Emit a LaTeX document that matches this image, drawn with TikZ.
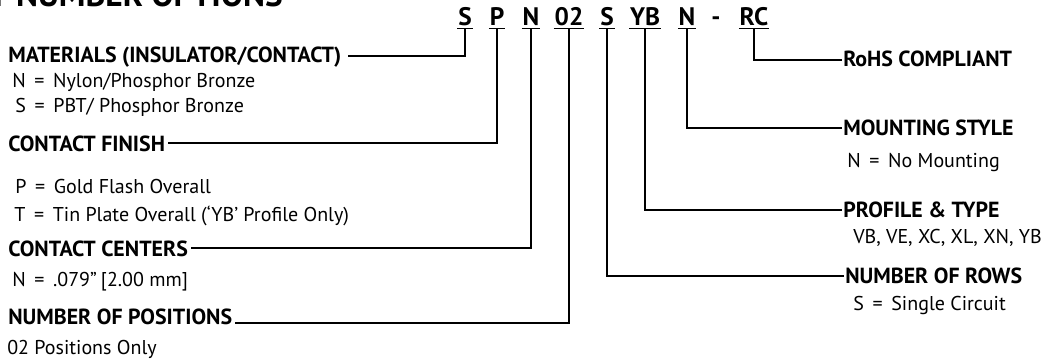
\documentclass[tikz,border=0pt]{standalone}
\usepackage{fontspec}
\setmainfont{PT Sans}
\usetikzlibrary{positioning,calc}
\newcommand{\eqsign}{\hspace{2.5pt} = \hspace{2.5pt}}
\tikzset{
	code/.style = {font=\bfseries\fontsize{19}{22}\selectfont, anchor=base, inner xsep=0.5pt, inner ysep=2.25pt, text depth=0pt},
	head/.style = {font=\bfseries\fontsize{16.4}{19}\selectfont, anchor=base west, inner sep=0pt},
	opt/.style  = {font=\fontsize{15}{18}\selectfont, anchor=base west, inner sep=0pt},
	link/.style = {draw, line width=0.8pt},
	uline/.style = {line width=1pt}
}

\begin{document}
\begin{tikzpicture}[x=0.75pt, y=-0.75pt]
	\useasboundingbox (0,0) rectangle (1041,361);
	\clip (0,0) rectangle (1041,361);
	\node [font=\bfseries\fontsize{25}{30}\selectfont, anchor=base east, inner sep=0pt] (title) at (283,6) {PART NUMBER OPTIONS};

	% part number
	\node [code] (cS) at (465,25) {S};
	\node [code] (cP) at (497,25) {P};
	\node [code] (cN) at (531,25) {N};
	\node [code] (c02) at (569,25) {02};
	\node [code] (cS2) at (607,25) {S};
	\node [code] (cYB) at (645,25) {YB};
	\node [code] (cN2) at (687,25) {N};
	\node [code] (cdash) at (716,25) {-};
	\node [code] (cRC) at (754,25) {RC};
	\foreach \c in {cS,cP,cN,c02,cS2,cYB,cN2,cRC}
		\draw [uline] (\c.south west) -- (\c.south east);

	% left side
	\node [head] (mat) at (8,62) {MATERIALS (INSULATOR/CONTACT)};
	\node [opt] (matN) at (12,87) {N\eqsign Nylon/Phosphor Bronze};
	\node [opt] (matS) at (15,112) {S\eqsign PBT/ Phosphor Bronze};
	\node [head] (fin) at (8,151) {CONTACT FINISH};
	\node [opt] (finP) at (15,193) {P\eqsign Gold Flash Overall};
	\node [opt] (finT) at (14,221) {T\eqsign Tin Plate Overall (‘YB’ Profile Only)};
	\node [head] (cen) at (8,256) {CONTACT CENTERS};
	\node [opt] (cenN) at (12,286) {N\eqsign .079”\hspace{-1pt} [2.00 mm]};
	\node [head] (pos) at (8,324) {NUMBER OF POSITIONS};
	\node [opt] (posO) at (7,354) {02 Positions Only};

	% right side
	\node [head] (rohs) at (843,66) {RoHS COMPLIANT};
	\node [head] (mnt) at (843,135) {MOUNTING STYLE};
	\node [opt] (mntN) at (847,167) {N\eqsign No Mounting};
	\node [head] (prf) at (843,217) {PROFILE \& TYPE};
	\node [opt] (prfT) at (853,243) {VB, VE, XC, XL, XN, YB};
	\node [head] (row) at (845,283) {NUMBER OF ROWS};
	\node [opt] (rowS) at (853,310) {S\eqsign Single Circuit};

	\draw [link] (cS.south) |- ([xshift=5pt,yshift=4.5pt]mat.base east);
	\draw [link] (cP.south) |- ([xshift=2pt,yshift=6pt]fin.base east);
	\draw [link] (cN.south) |- ([xshift=2pt,yshift=6pt]cen.base east);
	\draw [link] (c02.south) |- ([xshift=2pt,yshift=0.75pt]pos.base east);
	\draw [link] (cS2.south) |- ([xshift=-1pt,yshift=5.25pt]row.base west);
	\draw [link] (cYB.south) |- ([xshift=-0.5pt,yshift=5.25pt]prf.base west);
	\draw [link] (cN2.south) |- ([xshift=-0.5pt,yshift=5.25pt]mnt.base west);
	\draw [link] (cRC.south) |- ([xshift=-0.5pt,yshift=4.5pt]rohs.base west);
\end{tikzpicture}
\end{document}
